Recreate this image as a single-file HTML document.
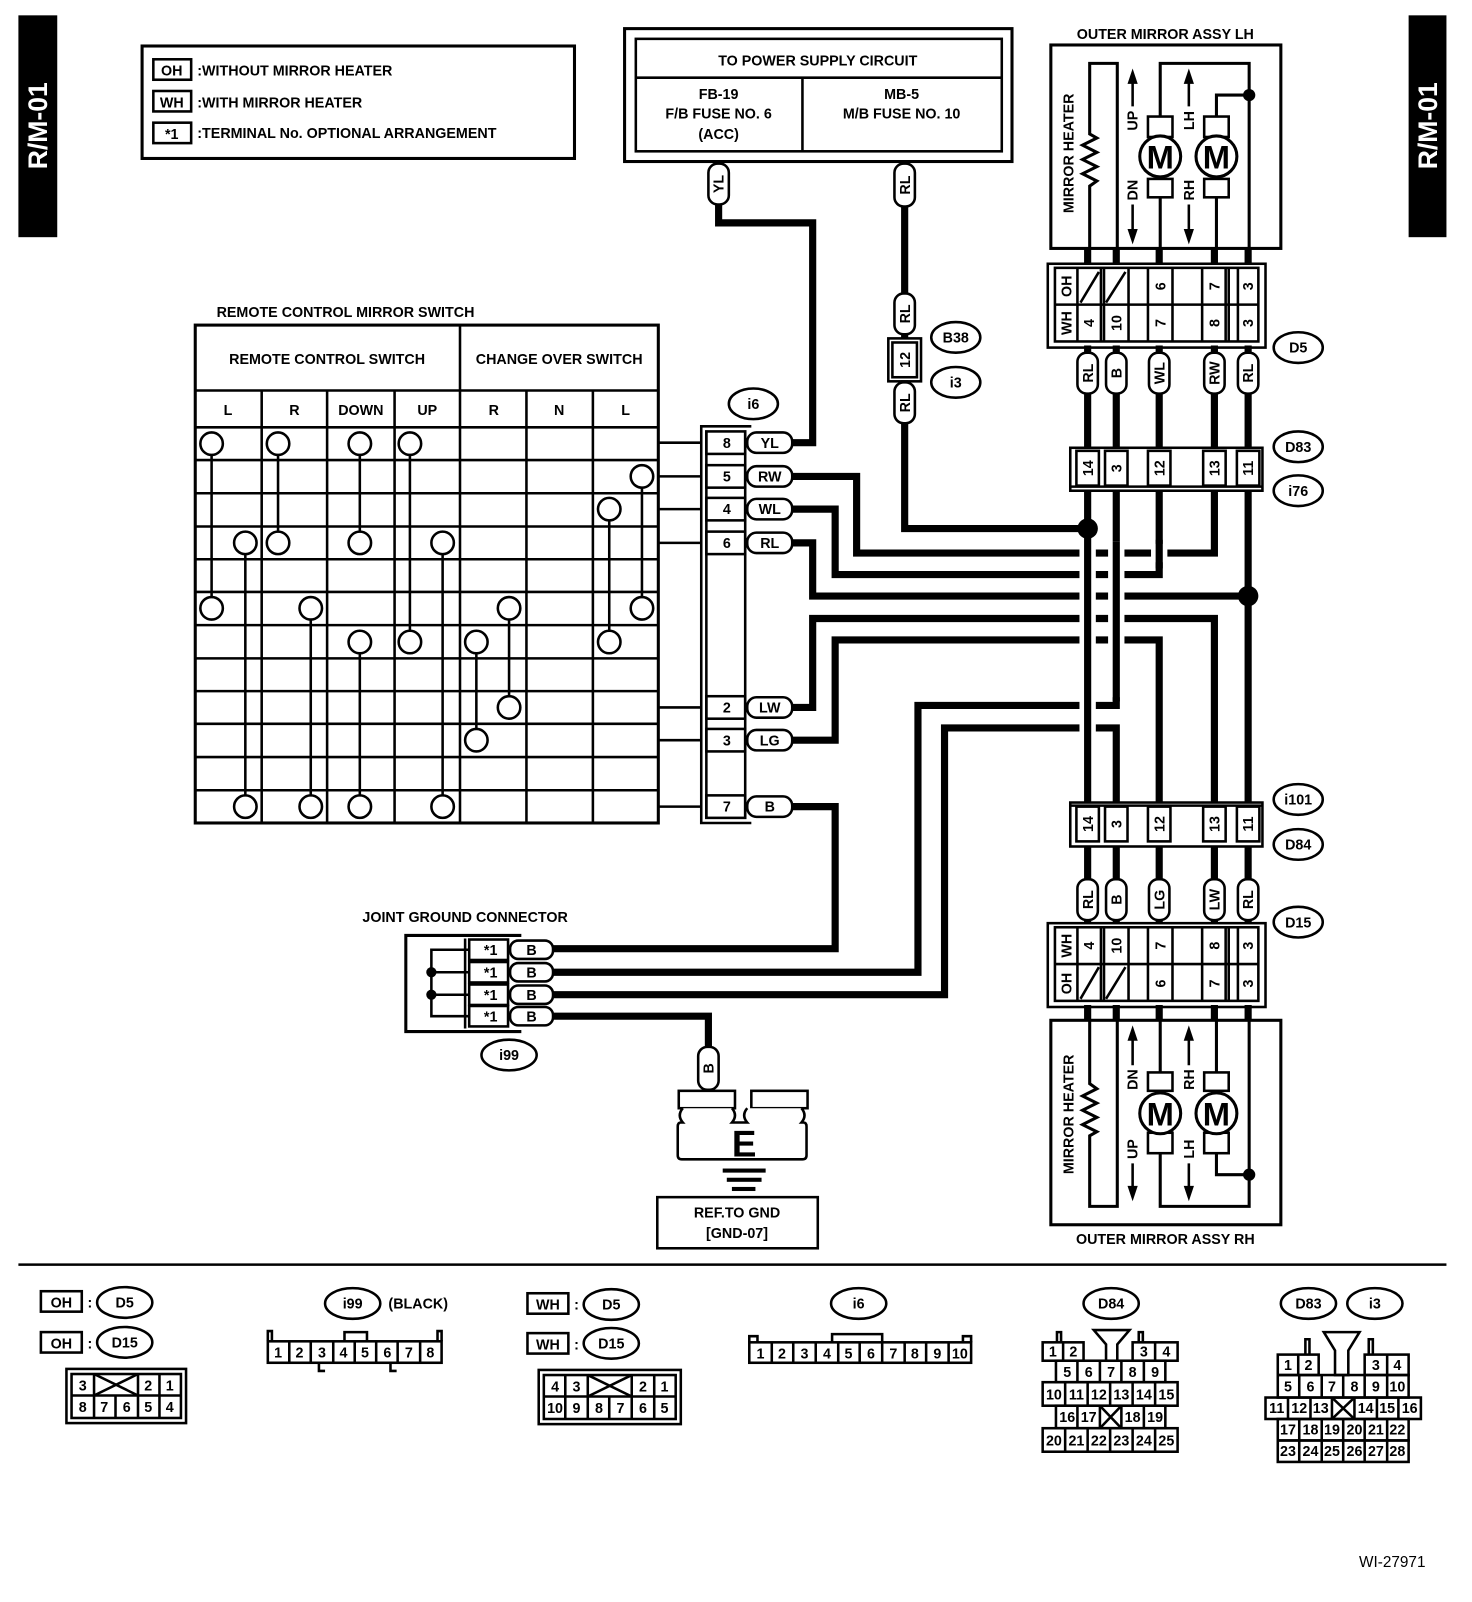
<!DOCTYPE html>
<html><head><meta charset="utf-8"><style>
html,body{margin:0;padding:0;background:#fff;}
svg{display:block;}
text{font-family:"Liberation Sans",sans-serif;font-weight:bold;font-size:14px;fill:#000;}
.t{text-anchor:middle;}
.w{fill:none;stroke:#000;stroke-width:7;stroke-linejoin:miter;}
.l{fill:none;stroke:#000;stroke-width:2.5;}
.b{fill:#fff;stroke:#000;stroke-width:3;}
.p{fill:#fff;stroke:#000;stroke-width:2.5;}
</style></head><body>
<svg width="1472" height="1602" viewBox="0 0 1440 1567" preserveAspectRatio="none" xmlns="http://www.w3.org/2000/svg">
<rect x="0" y="0" width="1440" height="1567" fill="#fff"/>
<!-- side tabs -->
<rect x="18" y="15" width="38" height="217" fill="#000"/>
<text transform="translate(46,123) rotate(-90)" class="t" style="fill:#fff;font-size:26px">R/M-01</text>
<rect x="1378" y="15" width="37" height="217" fill="#000"/>
<text transform="translate(1406,123) rotate(-90)" class="t" style="fill:#fff;font-size:26px">R/M-01</text>

<!-- legend -->
<rect x="139" y="45" width="423" height="110" class="b"/>
<rect x="150" y="58" width="37" height="20" class="l"/><text x="168" y="74" class="t">OH</text><text x="193" y="74">:WITHOUT MIRROR HEATER</text>
<rect x="150" y="89" width="37" height="20" class="l"/><text x="168" y="105" class="t">WH</text><text x="193" y="105">:WITH MIRROR HEATER</text>
<rect x="150" y="120" width="37" height="20" class="l"/><text x="168" y="136" class="t">*1</text><text x="193" y="135">:TERMINAL No. OPTIONAL ARRANGEMENT</text>

<!-- power supply -->
<rect x="611" y="28" width="379" height="130" class="b"/>
<rect x="622" y="38" width="358" height="110" class="l"/>
<line x1="622" y1="76" x2="980" y2="76" class="l"/><line x1="785" y1="76" x2="785" y2="148" class="l"/>
<text x="800" y="64" class="t">TO POWER SUPPLY CIRCUIT</text>
<text x="703" y="97" class="t">FB-19</text><text x="703" y="116" class="t">F/B FUSE NO. 6</text><text x="703" y="136" class="t">(ACC)</text>
<text x="882" y="97" class="t">MB-5</text><text x="882" y="116" class="t">M/B FUSE NO. 10</text>

<!-- switch table -->
<text x="338" y="310" class="t">REMOTE CONTROL MIRROR SWITCH</text>
<rect x="191" y="318" width="453" height="487" class="b"/>
<g class="l">
<line x1="450" y1="318" x2="450" y2="805"/><line x1="191" y1="382" x2="644" y2="382"/>
<line x1="256" y1="382" x2="256" y2="805"/><line x1="320" y1="382" x2="320" y2="805"/><line x1="386" y1="382" x2="386" y2="805"/>
<line x1="515" y1="382" x2="515" y2="805"/><line x1="580" y1="382" x2="580" y2="805"/>
<line x1="191" y1="418" x2="644" y2="418"/><line x1="191" y1="450" x2="644" y2="450"/><line x1="191" y1="482.5" x2="644" y2="482.5"/>
<line x1="191" y1="515" x2="644" y2="515"/><line x1="191" y1="547" x2="644" y2="547"/><line x1="191" y1="579" x2="644" y2="579"/>
<line x1="191" y1="611.5" x2="644" y2="611.5"/><line x1="191" y1="644" x2="644" y2="644"/><line x1="191" y1="676" x2="644" y2="676"/>
<line x1="191" y1="708" x2="644" y2="708"/><line x1="191" y1="740.5" x2="644" y2="740.5"/><line x1="191" y1="773" x2="644" y2="773"/>
</g>
<text x="320" y="356" class="t">REMOTE CONTROL SWITCH</text><text x="547" y="356" class="t">CHANGE OVER SWITCH</text>
<text x="223" y="406" class="t">L</text><text x="288" y="406" class="t">R</text><text x="353" y="406" class="t">DOWN</text><text x="418" y="406" class="t">UP</text>
<text x="483" y="406" class="t">R</text><text x="547" y="406" class="t">N</text><text x="612" y="406" class="t">L</text>
<g class="l">
<line x1="207" y1="434" x2="207" y2="595"/><line x1="272" y1="434" x2="272" y2="531"/><line x1="352" y1="434" x2="352" y2="531"/>
<line x1="401" y1="434" x2="401" y2="628"/><line x1="240" y1="531" x2="240" y2="789"/><line x1="304" y1="595" x2="304" y2="789"/>
<line x1="352" y1="628" x2="352" y2="789"/><line x1="433" y1="531" x2="433" y2="789"/><line x1="466" y1="628" x2="466" y2="724"/>
<line x1="498" y1="595" x2="498" y2="692"/><line x1="596" y1="498" x2="596" y2="628"/><line x1="628" y1="466" x2="628" y2="595"/>
</g>
<g class="p">
<circle cx="207" cy="434" r="11"/><circle cx="272" cy="434" r="11"/><circle cx="352" cy="434" r="11"/><circle cx="401" cy="434" r="11"/>
<circle cx="628" cy="466" r="11"/><circle cx="596" cy="498" r="11"/>
<circle cx="240" cy="531" r="11"/><circle cx="272" cy="531" r="11"/><circle cx="352" cy="531" r="11"/><circle cx="433" cy="531" r="11"/>
<circle cx="207" cy="595" r="11"/><circle cx="304" cy="595" r="11"/><circle cx="498" cy="595" r="11"/><circle cx="628" cy="595" r="11"/>
<circle cx="352" cy="628" r="11"/><circle cx="401" cy="628" r="11"/><circle cx="466" cy="628" r="11"/><circle cx="596" cy="628" r="11"/>
<circle cx="498" cy="692" r="11"/><circle cx="466" cy="724" r="11"/>
<circle cx="240" cy="789" r="11"/><circle cx="304" cy="789" r="11"/><circle cx="352" cy="789" r="11"/><circle cx="433" cy="789" r="11"/>
</g>
<g class="l">
<line x1="644" y1="433" x2="686" y2="433"/><line x1="644" y1="466" x2="686" y2="466"/><line x1="644" y1="498" x2="686" y2="498"/>
<line x1="644" y1="531" x2="686" y2="531"/><line x1="644" y1="692" x2="686" y2="692"/><line x1="644" y1="724" x2="686" y2="724"/><line x1="644" y1="789" x2="686" y2="789"/>
</g>

<!-- i6 connector -->
<ellipse cx="737" cy="395" rx="24" ry="15" class="p"/><text x="737" y="400" class="t">i6</text>
<polyline points="735,417 686,417 686,805 735,805" class="l"/>
<line x1="691" y1="421" x2="691" y2="801" class="l"/>
<line x1="729" y1="421" x2="729" y2="801" class="l"/>
<g class="l">
<rect x="691" y="422" width="38" height="22"/><rect x="691" y="455" width="38" height="22"/><rect x="691" y="487" width="38" height="22"/>
<rect x="691" y="520" width="38" height="22"/><rect x="691" y="681" width="38" height="22"/><rect x="691" y="713" width="38" height="22"/><rect x="691" y="778" width="38" height="22"/>
</g>
<text x="711" y="438" class="t">8</text><text x="711" y="471" class="t">5</text><text x="711" y="503" class="t">4</text><text x="711" y="536" class="t">6</text>
<text x="711" y="697" class="t">2</text><text x="711" y="729" class="t">3</text><text x="711" y="794" class="t">7</text>

<!-- wires -->
<g class="w">
<path d="M775,433 H795 V218 H703 V200"/>
<path d="M775,466 H838 V541 H1188 V480"/>
<path d="M775,498 H817 V562 H1134 V480"/>
<path d="M775,531 H795 V583 H1221"/>
<path d="M775,692 H795 V605 H1188 V785"/>
<path d="M775,724 H817 V626 H1134 V785"/>
<path d="M775,789 H817 V928 H541"/>
<path d="M541,951 H898 V690 H1092 V480"/>
<path d="M541,973 H924 V712 H1092 V785"/>
<path d="M541,994 H693 V1024"/>
<path d="M885,202 V288 M885,326 V332 M885,372 V375"/>
<path d="M885,413 V517 H1064"/>
</g>
<!-- crossing gaps -->
<rect x="1056" y="530" width="16" height="190" fill="#fff"/>
<rect x="1084" y="530" width="16" height="152" fill="#fff"/>
<rect x="1126" y="532" width="16" height="18" fill="#fff"/>
<g class="w">
<path d="M1064,480 V785"/><path d="M1221,480 V785"/>
<path d="M1092,530 V686"/><path d="M1134,528 V556"/>
<path d="M1064,338 V345 M1092,338 V345 M1134,338 V345 M1188,338 V345 M1221,338 V345"/>
<path d="M1064,385 V438 M1092,385 V438 M1134,385 V438 M1188,385 V438 M1221,385 V438"/>
<path d="M1064,243 V258 M1092,243 V258 M1134,243 V258 M1188,243 V258 M1221,243 V258"/>
<path d="M1064,828 V860 M1092,828 V860 M1134,828 V860 M1188,828 V860 M1221,828 V860"/>
<path d="M1064,900 V903 M1092,900 V903 M1134,900 V903 M1188,900 V903 M1221,900 V903"/>
<path d="M1064,983 V999 M1092,983 V999 M1134,983 V999 M1188,983 V999 M1221,983 V999"/>
</g>
<circle cx="1064" cy="517" r="10"/><circle cx="1221" cy="583" r="10"/>

<!-- i6 pills -->
<g class="p">
<rect x="731" y="423" width="44" height="20" rx="9"/><rect x="731" y="456" width="44" height="20" rx="9"/><rect x="731" y="488" width="44" height="20" rx="9"/>
<rect x="731" y="521" width="44" height="20" rx="9"/><rect x="731" y="682" width="44" height="20" rx="9"/><rect x="731" y="714" width="44" height="20" rx="9"/><rect x="731" y="779" width="44" height="20" rx="9"/>
</g>
<text x="753" y="438" class="t">YL</text><text x="753" y="471" class="t">RW</text><text x="753" y="503" class="t">WL</text><text x="753" y="536" class="t">RL</text>
<text x="753" y="697" class="t">LW</text><text x="753" y="729" class="t">LG</text><text x="753" y="794" class="t">B</text>

<!-- vertical pills top -->
<g class="p">
<rect x="693" y="160" width="20" height="40" rx="9"/><rect x="875" y="160" width="20" height="42" rx="9"/>
<rect x="875" y="287" width="20" height="40" rx="9"/><rect x="875" y="374" width="20" height="40" rx="9"/>
</g>
<text transform="translate(708,180) rotate(-90)" class="t">YL</text>
<text transform="translate(890,181) rotate(-90)" class="t">RL</text>
<text transform="translate(890,307) rotate(-90)" class="t">RL</text>
<text transform="translate(890,394) rotate(-90)" class="t">RL</text>
<rect x="869" y="331" width="32" height="42" class="l"/><rect x="873" y="335" width="24" height="34" class="l"/>
<text transform="translate(890,352) rotate(-90)" class="t">12</text>
<ellipse cx="935" cy="330" rx="24" ry="15" class="p"/><text x="935" y="335" class="t">B38</text>
<ellipse cx="935" cy="374" rx="24" ry="15" class="p"/><text x="935" y="379" class="t">i3</text>

<!-- LH mirror -->
<text x="1140" y="38" class="t">OUTER MIRROR ASSY LH</text>
<rect x="1028" y="44" width="225" height="199" class="b"/>
<g id="mir">
<path d="M1066,243 V182 l7,-5 l-14,-7 l14,-7 l-14,-7 l14,-7 l-14,-7 l14,-7 l-7,-4 V62 H1093 V243" class="l" style="stroke-width:3"/>
<path d="M1135,243 V193 M1135,114 V62 H1222 V243 M1190,243 V193 M1190,114 V93 H1222" class="l" style="stroke-width:3"/>
<circle cx="1222" cy="93" r="6"/>
<rect x="1123" y="114" width="24" height="20" class="l" style="fill:#fff"/><rect x="1123" y="175" width="24" height="18" class="l" style="fill:#fff"/>
<rect x="1178" y="114" width="24" height="20" class="l" style="fill:#fff"/><rect x="1178" y="175" width="24" height="18" class="l" style="fill:#fff"/>
<circle cx="1135" cy="153" r="20" class="p" style="stroke-width:3"/><circle cx="1190" cy="153" r="20" class="p" style="stroke-width:3"/>
<path d="M1108,104 V80 M1108,200 V226 M1163,104 V80 M1163,200 V226" class="l"/>
<polygon points="1108,67 1103,82 1113,82"/><polygon points="1108,239 1103,224 1113,224"/>
<polygon points="1163,67 1158,82 1168,82"/><polygon points="1163,239 1158,224 1168,224"/>
</g>
<text transform="translate(1050,150) rotate(-90)" class="t">MIRROR HEATER</text>
<text transform="translate(1113,118) rotate(-90)" class="t">UP</text><text transform="translate(1113,186) rotate(-90)" class="t">DN</text>
<text transform="translate(1168,118) rotate(-90)" class="t">LH</text><text transform="translate(1168,186) rotate(-90)" class="t">RH</text>
<text x="1135" y="165" class="t" style="font-size:32px">M</text><text x="1190" y="165" class="t" style="font-size:32px">M</text>

<!-- RH mirror -->
<rect x="1028" y="998" width="225" height="200" class="b"/>
<use href="#mir" transform="translate(0,1242) scale(1,-1)"/>
<text transform="translate(1050,1090) rotate(-90)" class="t">MIRROR HEATER</text>
<text transform="translate(1113,1056) rotate(-90)" class="t">DN</text><text transform="translate(1113,1124) rotate(-90)" class="t">UP</text>
<text transform="translate(1168,1056) rotate(-90)" class="t">RH</text><text transform="translate(1168,1124) rotate(-90)" class="t">LH</text>
<text x="1135" y="1101" class="t" style="font-size:32px">M</text><text x="1190" y="1101" class="t" style="font-size:32px">M</text>
<text x="1140" y="1217" class="t">OUTER MIRROR ASSY RH</text>

<!-- D5 connector -->
<rect x="1025" y="258" width="213" height="82" class="l"/>
<rect x="1032" y="262" width="199" height="72" class="p"/>
<line x1="1032" y1="298" x2="1231" y2="298" class="l"/>
<g class="l">
<line x1="1054" y1="262" x2="1054" y2="334"/><line x1="1077" y1="262" x2="1077" y2="334"/><line x1="1080" y1="262" x2="1080" y2="334"/>
<line x1="1104" y1="262" x2="1104" y2="334"/><line x1="1123" y1="262" x2="1123" y2="334"/><line x1="1147" y1="262" x2="1147" y2="334"/>
<line x1="1176" y1="262" x2="1176" y2="334"/><line x1="1199" y1="262" x2="1199" y2="334"/><line x1="1202" y1="262" x2="1202" y2="334"/><line x1="1211" y1="262" x2="1211" y2="334"/>
<line x1="1057" y1="296" x2="1075" y2="266"/><line x1="1082" y1="296" x2="1101" y2="266"/>
</g>
<text transform="translate(1048,280) rotate(-90)" class="t">OH</text><text transform="translate(1048,316) rotate(-90)" class="t">WH</text>
<text transform="translate(1140,280) rotate(-90)" class="t">6</text><text transform="translate(1193,280) rotate(-90)" class="t">7</text><text transform="translate(1226,280) rotate(-90)" class="t">3</text>
<text transform="translate(1070,316) rotate(-90)" class="t">4</text><text transform="translate(1097,316) rotate(-90)" class="t">10</text><text transform="translate(1140,316) rotate(-90)" class="t">7</text>
<text transform="translate(1193,316) rotate(-90)" class="t">8</text><text transform="translate(1226,316) rotate(-90)" class="t">3</text>
<g class="p">
<rect x="1054" y="345" width="20" height="40" rx="9"/><rect x="1082" y="345" width="20" height="40" rx="9"/><rect x="1124" y="345" width="20" height="40" rx="9"/>
<rect x="1178" y="345" width="20" height="40" rx="9"/><rect x="1211" y="345" width="20" height="40" rx="9"/>
</g>
<text transform="translate(1069,365) rotate(-90)" class="t">RL</text><text transform="translate(1097,365) rotate(-90)" class="t">B</text>
<text transform="translate(1139,365) rotate(-90)" class="t">WL</text><text transform="translate(1193,365) rotate(-90)" class="t">RW</text><text transform="translate(1226,365) rotate(-90)" class="t">RL</text>
<ellipse cx="1270" cy="340" rx="24" ry="15" class="p"/><text x="1270" y="345" class="t">D5</text>

<!-- D83 -->
<rect x="1047" y="438" width="188" height="42" class="l"/>
<g class="p">
<rect x="1053" y="441" width="22" height="34"/><rect x="1081" y="441" width="22" height="34"/><rect x="1123" y="441" width="22" height="34"/>
<rect x="1177" y="441" width="22" height="34"/><rect x="1210" y="441" width="22" height="34"/>
</g>
<line x1="1047" y1="476" x2="1235" y2="476" class="l"/>
<text transform="translate(1069,458) rotate(-90)" class="t">14</text><text transform="translate(1097,458) rotate(-90)" class="t">3</text>
<text transform="translate(1139,458) rotate(-90)" class="t">12</text><text transform="translate(1193,458) rotate(-90)" class="t">13</text><text transform="translate(1226,458) rotate(-90)" class="t">11</text>
<ellipse cx="1270" cy="437" rx="24" ry="15" class="p"/><text x="1270" y="442" class="t">D83</text>
<ellipse cx="1270" cy="480" rx="24" ry="15" class="p"/><text x="1270" y="485" class="t">i76</text>

<!-- D84 -->
<rect x="1047" y="785" width="188" height="43" class="l"/>
<g class="p">
<rect x="1053" y="789" width="22" height="34"/><rect x="1081" y="789" width="22" height="34"/><rect x="1123" y="789" width="22" height="34"/>
<rect x="1177" y="789" width="22" height="34"/><rect x="1210" y="789" width="22" height="34"/>
</g>
<line x1="1047" y1="788" x2="1235" y2="788" class="l"/>
<text transform="translate(1069,806) rotate(-90)" class="t">14</text><text transform="translate(1097,806) rotate(-90)" class="t">3</text>
<text transform="translate(1139,806) rotate(-90)" class="t">12</text><text transform="translate(1193,806) rotate(-90)" class="t">13</text><text transform="translate(1226,806) rotate(-90)" class="t">11</text>
<ellipse cx="1270" cy="782" rx="24" ry="15" class="p"/><text x="1270" y="787" class="t">i101</text>
<ellipse cx="1270" cy="826" rx="24" ry="15" class="p"/><text x="1270" y="831" class="t">D84</text>
<g class="p">
<rect x="1054" y="860" width="20" height="40" rx="9"/><rect x="1082" y="860" width="20" height="40" rx="9"/><rect x="1124" y="860" width="20" height="40" rx="9"/>
<rect x="1178" y="860" width="20" height="40" rx="9"/><rect x="1211" y="860" width="20" height="40" rx="9"/>
</g>
<text transform="translate(1069,880) rotate(-90)" class="t">RL</text><text transform="translate(1097,880) rotate(-90)" class="t">B</text>
<text transform="translate(1139,880) rotate(-90)" class="t">LG</text><text transform="translate(1193,880) rotate(-90)" class="t">LW</text><text transform="translate(1226,880) rotate(-90)" class="t">RL</text>
<ellipse cx="1270" cy="902" rx="24" ry="15" class="p"/><text x="1270" y="907" class="t">D15</text>

<!-- D15 -->
<rect x="1025" y="903" width="213" height="82" class="l"/>
<rect x="1032" y="907" width="199" height="72" class="p"/>
<line x1="1032" y1="943" x2="1231" y2="943" class="l"/>
<g class="l">
<line x1="1054" y1="907" x2="1054" y2="979"/><line x1="1077" y1="907" x2="1077" y2="979"/><line x1="1080" y1="907" x2="1080" y2="979"/>
<line x1="1104" y1="907" x2="1104" y2="979"/><line x1="1123" y1="907" x2="1123" y2="979"/><line x1="1147" y1="907" x2="1147" y2="979"/>
<line x1="1176" y1="907" x2="1176" y2="979"/><line x1="1199" y1="907" x2="1199" y2="979"/><line x1="1202" y1="907" x2="1202" y2="979"/><line x1="1211" y1="907" x2="1211" y2="979"/>
<line x1="1057" y1="977" x2="1075" y2="946"/><line x1="1082" y1="977" x2="1101" y2="946"/>
</g>
<text transform="translate(1048,925) rotate(-90)" class="t">WH</text><text transform="translate(1048,962) rotate(-90)" class="t">OH</text>
<text transform="translate(1070,925) rotate(-90)" class="t">4</text><text transform="translate(1097,925) rotate(-90)" class="t">10</text><text transform="translate(1140,925) rotate(-90)" class="t">7</text>
<text transform="translate(1193,925) rotate(-90)" class="t">8</text><text transform="translate(1226,925) rotate(-90)" class="t">3</text>
<text transform="translate(1140,962) rotate(-90)" class="t">6</text><text transform="translate(1193,962) rotate(-90)" class="t">7</text><text transform="translate(1226,962) rotate(-90)" class="t">3</text>

<!-- joint ground -->
<text x="455" y="902" class="t">JOINT GROUND CONNECTOR</text>
<polyline points="510,915 397,915 397,1009 510,1009" class="l" style="stroke-width:3"/>
<line x1="455" y1="918" x2="455" y2="1006" class="l"/>
<g class="l">
<rect x="459" y="919" width="38" height="20"/><rect x="459" y="941" width="38" height="20"/><rect x="459" y="963" width="38" height="20"/><rect x="459" y="984" width="38" height="20"/>
<path d="M459,929 H422 V994 H459 M422,951 H459 M422,973 H459"/>
</g>
<circle cx="422" cy="951" r="5"/><circle cx="422" cy="973" r="5"/>
<text x="480" y="934" class="t">*1</text><text x="480" y="956" class="t">*1</text><text x="480" y="978" class="t">*1</text><text x="480" y="999" class="t">*1</text>
<g class="p">
<rect x="499" y="920" width="42" height="18" rx="8"/><rect x="499" y="942" width="42" height="18" rx="8"/><rect x="499" y="964" width="42" height="18" rx="8"/><rect x="499" y="985" width="42" height="18" rx="8"/>
</g>
<text x="520" y="934" class="t">B</text><text x="520" y="956" class="t">B</text><text x="520" y="978" class="t">B</text><text x="520" y="999" class="t">B</text>
<ellipse cx="498" cy="1032" rx="27" ry="15" class="p"/><text x="498" y="1037" class="t">i99</text>

<!-- ground -->
<rect x="683" y="1024" width="20" height="42" rx="9" class="p"/>
<text transform="translate(698,1045) rotate(-90)" class="t">B</text>
<rect x="664" y="1067" width="55" height="17" class="p"/><rect x="735" y="1067" width="55" height="17" class="p"/>
<path d="M668,1084 q-6,7 0,14 h-2 q-3,0 -3,4 v28 q0,4 4,4 h118 q4,0 4,-4 v-28 q0,-4 -3,-4 h-2 q6,-7 0,-14 M731,1084 q-6,7 0,14 h-15 q6,-7 0,-14 M714,1084 v0" class="p"/>
<text x="728" y="1131" class="t" style="font-size:36px">E</text>
<rect x="707" y="1143" width="42" height="4"/><rect x="711" y="1152" width="34" height="4"/><rect x="716" y="1161" width="23" height="4"/>
<rect x="643" y="1171" width="157" height="50" class="l"/>
<text x="721" y="1191" class="t">REF.TO GND</text><text x="721" y="1211" class="t">[GND-07]</text>

<line x1="18" y1="1237" x2="1415" y2="1237" stroke="#000" stroke-width="2.5"/>

<!-- bottom: OH -->
<rect x="40" y="1263" width="40" height="20" class="l"/><text x="60" y="1279" class="t">OH</text><text x="88" y="1279" class="t">:</text>
<ellipse cx="122" cy="1274" rx="27" ry="15" class="p"/><text x="122" y="1279" class="t">D5</text>
<rect x="40" y="1303" width="40" height="20" class="l"/><text x="60" y="1319" class="t">OH</text><text x="88" y="1319" class="t">:</text>
<ellipse cx="122" cy="1313" rx="27" ry="15" class="p"/><text x="122" y="1318" class="t">D15</text>
<rect x="65" y="1339" width="117" height="53" class="l"/><rect x="70" y="1344" width="107" height="43" class="l"/>
<g class="l"><line x1="70" y1="1365" x2="177" y2="1365"/>
<line x1="92" y1="1344" x2="92" y2="1387"/><line x1="135" y1="1344" x2="135" y2="1387"/><line x1="156" y1="1344" x2="156" y2="1387"/><line x1="113" y1="1365" x2="113" y2="1387"/>
<line x1="92" y1="1344" x2="135" y2="1365"/><line x1="135" y1="1344" x2="92" y2="1365"/></g>
<g style="font-weight:normal">
<text x="81" y="1360" class="t">3</text><text x="145" y="1360" class="t">2</text><text x="166" y="1360" class="t">1</text>
<text x="81" y="1381" class="t">8</text><text x="102" y="1381" class="t">7</text><text x="124" y="1381" class="t">6</text><text x="145" y="1381" class="t">5</text><text x="166" y="1381" class="t">4</text>
</g>

<!-- i99 -->
<ellipse cx="345" cy="1275" rx="27" ry="15" class="p"/><text x="345" y="1280" class="t">i99</text><text x="380" y="1280">(BLACK)</text>
<rect x="262" y="1312" width="170" height="21" class="l"/>
<g class="l">
<line x1="283" y1="1312" x2="283" y2="1333"/><line x1="304" y1="1312" x2="304" y2="1333"/><line x1="326" y1="1312" x2="326" y2="1333"/>
<line x1="347" y1="1312" x2="347" y2="1333"/><line x1="368" y1="1312" x2="368" y2="1333"/><line x1="389" y1="1312" x2="389" y2="1333"/><line x1="411" y1="1312" x2="411" y2="1333"/>
<path d="M262,1312 v-10 h4 v10 M428,1312 v-10 h4 v10 M337,1312 v-9 h22 v9 M312,1333 v8 h6 M382,1333 v8 h6"/>
</g>
<g style="font-weight:normal">
<text x="272" y="1328" class="t">1</text><text x="293" y="1328" class="t">2</text><text x="315" y="1328" class="t">3</text><text x="336" y="1328" class="t">4</text>
<text x="357" y="1328" class="t">5</text><text x="379" y="1328" class="t">6</text><text x="400" y="1328" class="t">7</text><text x="421" y="1328" class="t">8</text>
</g>

<!-- WH -->
<rect x="516" y="1265" width="40" height="20" class="l"/><text x="536" y="1281" class="t">WH</text><text x="564" y="1281" class="t">:</text>
<ellipse cx="598" cy="1276" rx="27" ry="15" class="p"/><text x="598" y="1281" class="t">D5</text>
<rect x="516" y="1304" width="40" height="20" class="l"/><text x="536" y="1320" class="t">WH</text><text x="564" y="1320" class="t">:</text>
<ellipse cx="598" cy="1314" rx="27" ry="15" class="p"/><text x="598" y="1319" class="t">D15</text>
<rect x="527" y="1340" width="139" height="53" class="l"/><rect x="532" y="1345" width="129" height="43" class="l"/>
<g class="l"><line x1="532" y1="1366" x2="661" y2="1366"/>
<line x1="553" y1="1345" x2="553" y2="1388"/><line x1="575" y1="1345" x2="575" y2="1388"/><line x1="618" y1="1345" x2="618" y2="1388"/><line x1="640" y1="1345" x2="640" y2="1388"/>
<line x1="596" y1="1366" x2="596" y2="1388"/>
<line x1="575" y1="1345" x2="618" y2="1366"/><line x1="618" y1="1345" x2="575" y2="1366"/></g>
<g style="font-weight:normal">
<text x="543" y="1361" class="t">4</text><text x="564" y="1361" class="t">3</text><text x="629" y="1361" class="t">2</text><text x="650" y="1361" class="t">1</text>
<text x="543" y="1382" class="t">10</text><text x="564" y="1382" class="t">9</text><text x="586" y="1382" class="t">8</text><text x="607" y="1382" class="t">7</text><text x="629" y="1382" class="t">6</text><text x="650" y="1382" class="t">5</text>
</g>

<!-- i6 bottom -->
<ellipse cx="840" cy="1275" rx="27" ry="15" class="p"/><text x="840" y="1280" class="t">i6</text>
<rect x="733" y="1313" width="217" height="20" class="l"/>
<g class="l">
<line x1="755" y1="1313" x2="755" y2="1333"/><line x1="776" y1="1313" x2="776" y2="1333"/><line x1="798" y1="1313" x2="798" y2="1333"/>
<line x1="820" y1="1313" x2="820" y2="1333"/><line x1="841" y1="1313" x2="841" y2="1333"/><line x1="863" y1="1313" x2="863" y2="1333"/>
<line x1="885" y1="1313" x2="885" y2="1333"/><line x1="906" y1="1313" x2="906" y2="1333"/><line x1="928" y1="1313" x2="928" y2="1333"/>
<path d="M733,1313 v-6 h8 v6 M942,1313 v-6 h8 v6 M814,1313 v-8 h49 v8"/>
</g>
<g style="font-weight:normal">
<text x="744" y="1329" class="t">1</text><text x="765" y="1329" class="t">2</text><text x="787" y="1329" class="t">3</text><text x="809" y="1329" class="t">4</text><text x="830" y="1329" class="t">5</text>
<text x="852" y="1329" class="t">6</text><text x="874" y="1329" class="t">7</text><text x="895" y="1329" class="t">8</text><text x="917" y="1329" class="t">9</text><text x="939" y="1329" class="t">10</text>
</g>

<!-- D84 bottom -->
<ellipse cx="1087" cy="1275" rx="27" ry="15" class="p"/><text x="1087" y="1280" class="t">D84</text>
<g class="l">
<rect x="1020" y="1313" width="40" height="18"/><line x1="1040" y1="1313" x2="1040" y2="1331"/>
<rect x="1108" y="1313" width="44" height="18"/><line x1="1130" y1="1313" x2="1130" y2="1331"/>
<path d="M1034,1313 v-10 h4 v10 M1114,1313 v-10 h4 v10 M1070,1301 h35 l-12,14 v16 h-11 v-16 z"/>
<rect x="1033" y="1331" width="107" height="21"/><line x1="1054" y1="1331" x2="1054" y2="1352"/><line x1="1076" y1="1331" x2="1076" y2="1352"/><line x1="1097" y1="1331" x2="1097" y2="1352"/><line x1="1119" y1="1331" x2="1119" y2="1352"/>
<rect x="1020" y="1352" width="132" height="23"/><line x1="1042" y1="1352" x2="1042" y2="1375"/><line x1="1064" y1="1352" x2="1064" y2="1375"/><line x1="1086" y1="1352" x2="1086" y2="1375"/><line x1="1108" y1="1352" x2="1108" y2="1375"/><line x1="1130" y1="1352" x2="1130" y2="1375"/>
<rect x="1033" y="1375" width="107" height="22"/><line x1="1054" y1="1375" x2="1054" y2="1397"/><line x1="1076" y1="1375" x2="1076" y2="1397"/><line x1="1097" y1="1375" x2="1097" y2="1397"/><line x1="1119" y1="1375" x2="1119" y2="1397"/>
<line x1="1076" y1="1375" x2="1097" y2="1397"/><line x1="1097" y1="1375" x2="1076" y2="1397"/>
<rect x="1020" y="1397" width="132" height="23"/><line x1="1042" y1="1397" x2="1042" y2="1420"/><line x1="1064" y1="1397" x2="1064" y2="1420"/><line x1="1086" y1="1397" x2="1086" y2="1420"/><line x1="1108" y1="1397" x2="1108" y2="1420"/><line x1="1130" y1="1397" x2="1130" y2="1420"/>
</g>
<g style="font-weight:normal;font-size:13px">
<text x="1030" y="1327" class="t">1</text><text x="1050" y="1327" class="t">2</text><text x="1119" y="1327" class="t">3</text><text x="1141" y="1327" class="t">4</text>
<text x="1044" y="1347" class="t">5</text><text x="1065" y="1347" class="t">6</text><text x="1087" y="1347" class="t">7</text><text x="1108" y="1347" class="t">8</text><text x="1130" y="1347" class="t">9</text>
<text x="1031" y="1369" class="t">10</text><text x="1053" y="1369" class="t">11</text><text x="1075" y="1369" class="t">12</text><text x="1097" y="1369" class="t">13</text><text x="1119" y="1369" class="t">14</text><text x="1141" y="1369" class="t">15</text>
<text x="1044" y="1391" class="t">16</text><text x="1065" y="1391" class="t">17</text><text x="1108" y="1391" class="t">18</text><text x="1130" y="1391" class="t">19</text>
<text x="1031" y="1414" class="t">20</text><text x="1053" y="1414" class="t">21</text><text x="1075" y="1414" class="t">22</text><text x="1097" y="1414" class="t">23</text><text x="1119" y="1414" class="t">24</text><text x="1141" y="1414" class="t">25</text>
</g>

<!-- D83 / i3 bottom -->
<ellipse cx="1280" cy="1275" rx="27" ry="15" class="p"/><text x="1280" y="1280" class="t">D83</text>
<ellipse cx="1345" cy="1275" rx="27" ry="15" class="p"/><text x="1345" y="1280" class="t">i3</text>
<g class="l">
<rect x="1250" y="1325" width="40" height="20"/><line x1="1270" y1="1325" x2="1270" y2="1345"/>
<rect x="1335" y="1325" width="43" height="20"/><line x1="1357" y1="1325" x2="1357" y2="1345"/>
<path d="M1277,1325 v-15 h4 v15 M1339,1325 v-15 h4 v15 M1295,1303 h35 l-11,18 v24 h-13 v-24 z"/>
<rect x="1250" y="1345" width="128" height="22"/><line x1="1271" y1="1345" x2="1271" y2="1367"/><line x1="1293" y1="1345" x2="1293" y2="1367"/><line x1="1314" y1="1345" x2="1314" y2="1367"/><line x1="1335" y1="1345" x2="1335" y2="1367"/><line x1="1357" y1="1345" x2="1357" y2="1367"/>
<rect x="1238" y="1367" width="152" height="21"/><line x1="1260" y1="1367" x2="1260" y2="1388"/><line x1="1282" y1="1367" x2="1282" y2="1388"/><line x1="1303" y1="1367" x2="1303" y2="1388"/><line x1="1325" y1="1367" x2="1325" y2="1388"/><line x1="1347" y1="1367" x2="1347" y2="1388"/><line x1="1368" y1="1367" x2="1368" y2="1388"/>
<line x1="1303" y1="1367" x2="1325" y2="1388"/><line x1="1325" y1="1367" x2="1303" y2="1388"/>
<rect x="1250" y="1388" width="128" height="21"/><line x1="1271" y1="1388" x2="1271" y2="1409"/><line x1="1293" y1="1388" x2="1293" y2="1409"/><line x1="1314" y1="1388" x2="1314" y2="1409"/><line x1="1335" y1="1388" x2="1335" y2="1409"/><line x1="1357" y1="1388" x2="1357" y2="1409"/>
<rect x="1250" y="1409" width="128" height="21"/><line x1="1271" y1="1409" x2="1271" y2="1430"/><line x1="1293" y1="1409" x2="1293" y2="1430"/><line x1="1314" y1="1409" x2="1314" y2="1430"/><line x1="1335" y1="1409" x2="1335" y2="1430"/><line x1="1357" y1="1409" x2="1357" y2="1430"/>
</g>
<g style="font-weight:normal;font-size:13px">
<text x="1260" y="1340" class="t">1</text><text x="1280" y="1340" class="t">2</text><text x="1346" y="1340" class="t">3</text><text x="1367" y="1340" class="t">4</text>
<text x="1260" y="1361" class="t">5</text><text x="1282" y="1361" class="t">6</text><text x="1303" y="1361" class="t">7</text><text x="1325" y="1361" class="t">8</text><text x="1346" y="1361" class="t">9</text><text x="1367" y="1361" class="t">10</text>
<text x="1249" y="1382" class="t">11</text><text x="1271" y="1382" class="t">12</text><text x="1292" y="1382" class="t">13</text><text x="1336" y="1382" class="t">14</text><text x="1357" y="1382" class="t">15</text><text x="1379" y="1382" class="t">16</text>
<text x="1260" y="1403" class="t">17</text><text x="1282" y="1403" class="t">18</text><text x="1303" y="1403" class="t">19</text><text x="1325" y="1403" class="t">20</text><text x="1346" y="1403" class="t">21</text><text x="1367" y="1403" class="t">22</text>
<text x="1260" y="1424" class="t">23</text><text x="1282" y="1424" class="t">24</text><text x="1303" y="1424" class="t">25</text><text x="1325" y="1424" class="t">26</text><text x="1346" y="1424" class="t">27</text><text x="1367" y="1424" class="t">28</text>
</g>

<text x="1362" y="1533" class="t" style="font-weight:normal;font-size:15px">WI-27971</text>
</svg>
</body></html>
